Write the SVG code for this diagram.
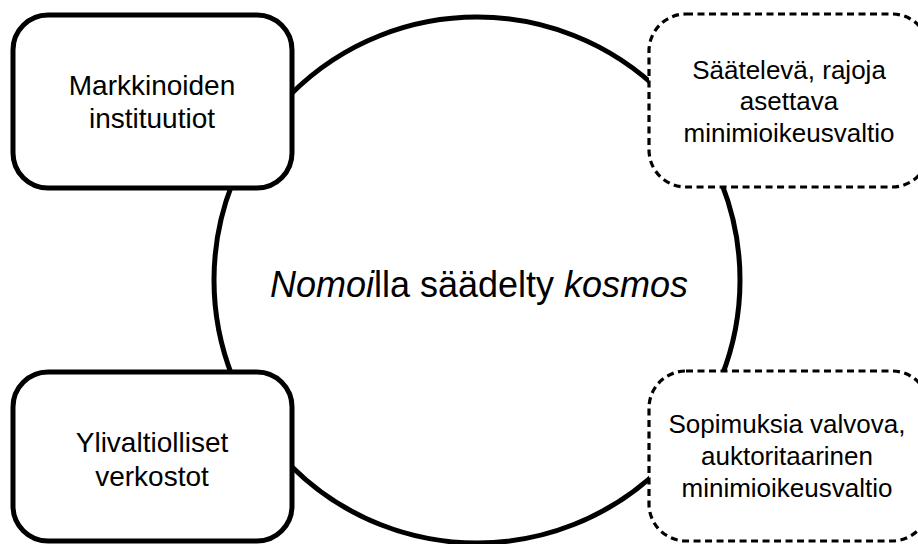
<svg xmlns="http://www.w3.org/2000/svg" width="918" height="544" viewBox="0 0 918 544">
<style>
.solid{fill:#fff;stroke:#000;stroke-width:5}
.dash{fill:#fff;stroke:#000;stroke-width:3.2;stroke-dasharray:7 4.5}
.ring{fill:none;stroke:#000;stroke-width:5}
text{font-family:"Liberation Sans",Arial,Helvetica,sans-serif;fill:#000;text-anchor:middle}
.l{font-size:28px}
.r{font-size:26px}
.c{font-size:36px}
</style>
<rect width="918" height="544" fill="#fff"/>
<g id="kosmos">
<circle class="ring" cx="477" cy="280" r="263"/>
<text class="c" x="479" y="297"><tspan font-style="italic">Nomoi</tspan>lla säädelty <tspan font-style="italic">kosmos</tspan></text>
</g>
<g id="connectors"></g>
<g id="markkinoiden">
<rect class="solid" x="13" y="15" width="279" height="173" rx="35"/>
<text class="l" x="152" y="95">Markkinoiden</text>
<text class="l" x="152" y="128">instituutiot</text>
</g>
<g id="ylivaltiolliset">
<rect class="solid" x="13" y="372" width="279" height="169" rx="35"/>
<text class="l" x="152" y="452">Ylivaltiolliset</text>
<text class="l" x="152" y="486">verkostot</text>
</g>
<g id="saateleva">
<rect class="dash" x="649" y="14" width="280" height="173" rx="37"/>
<text class="r" x="789" y="79">Säätelevä, rajoja</text>
<text class="r" x="789" y="110">asettava</text>
<text class="r" x="789" y="142">minimioikeusvaltio</text>
</g>
<g id="sopimuksia">
<rect class="dash" x="649" y="371" width="280" height="170" rx="37"/>
<text class="r" x="787" y="433">Sopimuksia valvova,</text>
<text class="r" x="787" y="465">auktoritaarinen</text>
<text class="r" x="787" y="497">minimioikeusvaltio</text>
</g>
</svg>
